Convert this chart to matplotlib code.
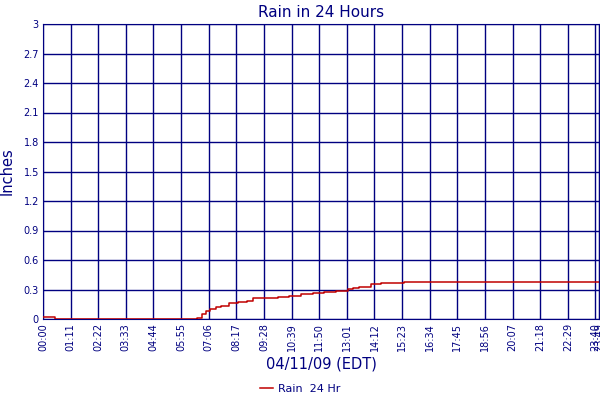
import matplotlib
matplotlib.use('Agg')
import matplotlib.pyplot as plt

# minutes since midnight and cumulative rain (inches)
minutes = [0, 31, 389, 395, 409, 420, 429, 444, 457, 478, 500, 525, 541, 568, 603,
           633, 663, 693, 723, 753, 775, 783, 796, 813, 842, 869, 929, 1429]
rain = [0.017, 0.0, 0.0, 0.013, 0.05, 0.085, 0.098, 0.12, 0.135, 0.16, 0.17, 0.186,
        0.21, 0.214, 0.227, 0.237, 0.25, 0.267, 0.271, 0.28, 0.288, 0.308, 0.318,
        0.33, 0.356, 0.363, 0.375, 0.375]

tick_minutes = [0, 71, 142, 213, 284, 355, 426, 497, 568, 639, 710, 781, 852, 923,
                994, 1065, 1136, 1207, 1278, 1349, 1420, 1429]
tick_labels = ['00:00', '01:11', '02:22', '03:33', '04:44', '05:55', '07:06', '08:17',
               '09:28', '10:39', '11:50', '13:01', '14:12', '15:23', '16:34', '17:45',
               '18:56', '20:07', '21:18', '22:29', '23:40', '23:49']
y_ticks = [0, 0.3, 0.6, 0.9, 1.2, 1.5, 1.8, 2.1, 2.4, 2.7, 3]
y_labels = ['0', '0.3', '0.6', '0.9', '1.2', '1.5', '1.8', '2.1', '2.4', '2.7', '3']

navy = '#000080'
fig = plt.figure(figsize=(6, 4), dpi=100)
ax = fig.add_axes([43/600, 81/400, 556/600, 295/400])

ax.plot(minutes, rain, color='#c00000', lw=1.1, drawstyle='steps-post', label='Rain  24 Hr', zorder=3)

ax.set_xlim(0, 1429)
ax.set_ylim(0, 3)
ax.set_xticks(tick_minutes)
ax.set_xticklabels(tick_labels, rotation=90, fontsize=7, color=navy)
ax.set_yticks(y_ticks)
ax.set_yticklabels(y_labels, fontsize=7, color=navy)
ax.tick_params(length=0, pad=3)
ax.grid(True, color=navy, lw=1)
for s in ax.spines.values():
    s.set_color(navy)

ax.set_title('Rain in 24 Hours', fontsize=11, color=navy, pad=5)
ax.set_ylabel('Inches', fontsize=10.5, color=navy, labelpad=6)
ax.set_xlabel('04/11/09 (EDT)', fontsize=10.5, color=navy, labelpad=4)

fig.legend(loc='lower center', bbox_to_anchor=(0.5, -0.01), frameon=False, fontsize=8,
           labelcolor=navy, handlelength=1.2, handletextpad=0.4)

fig.savefig('out.png', dpi=100)
